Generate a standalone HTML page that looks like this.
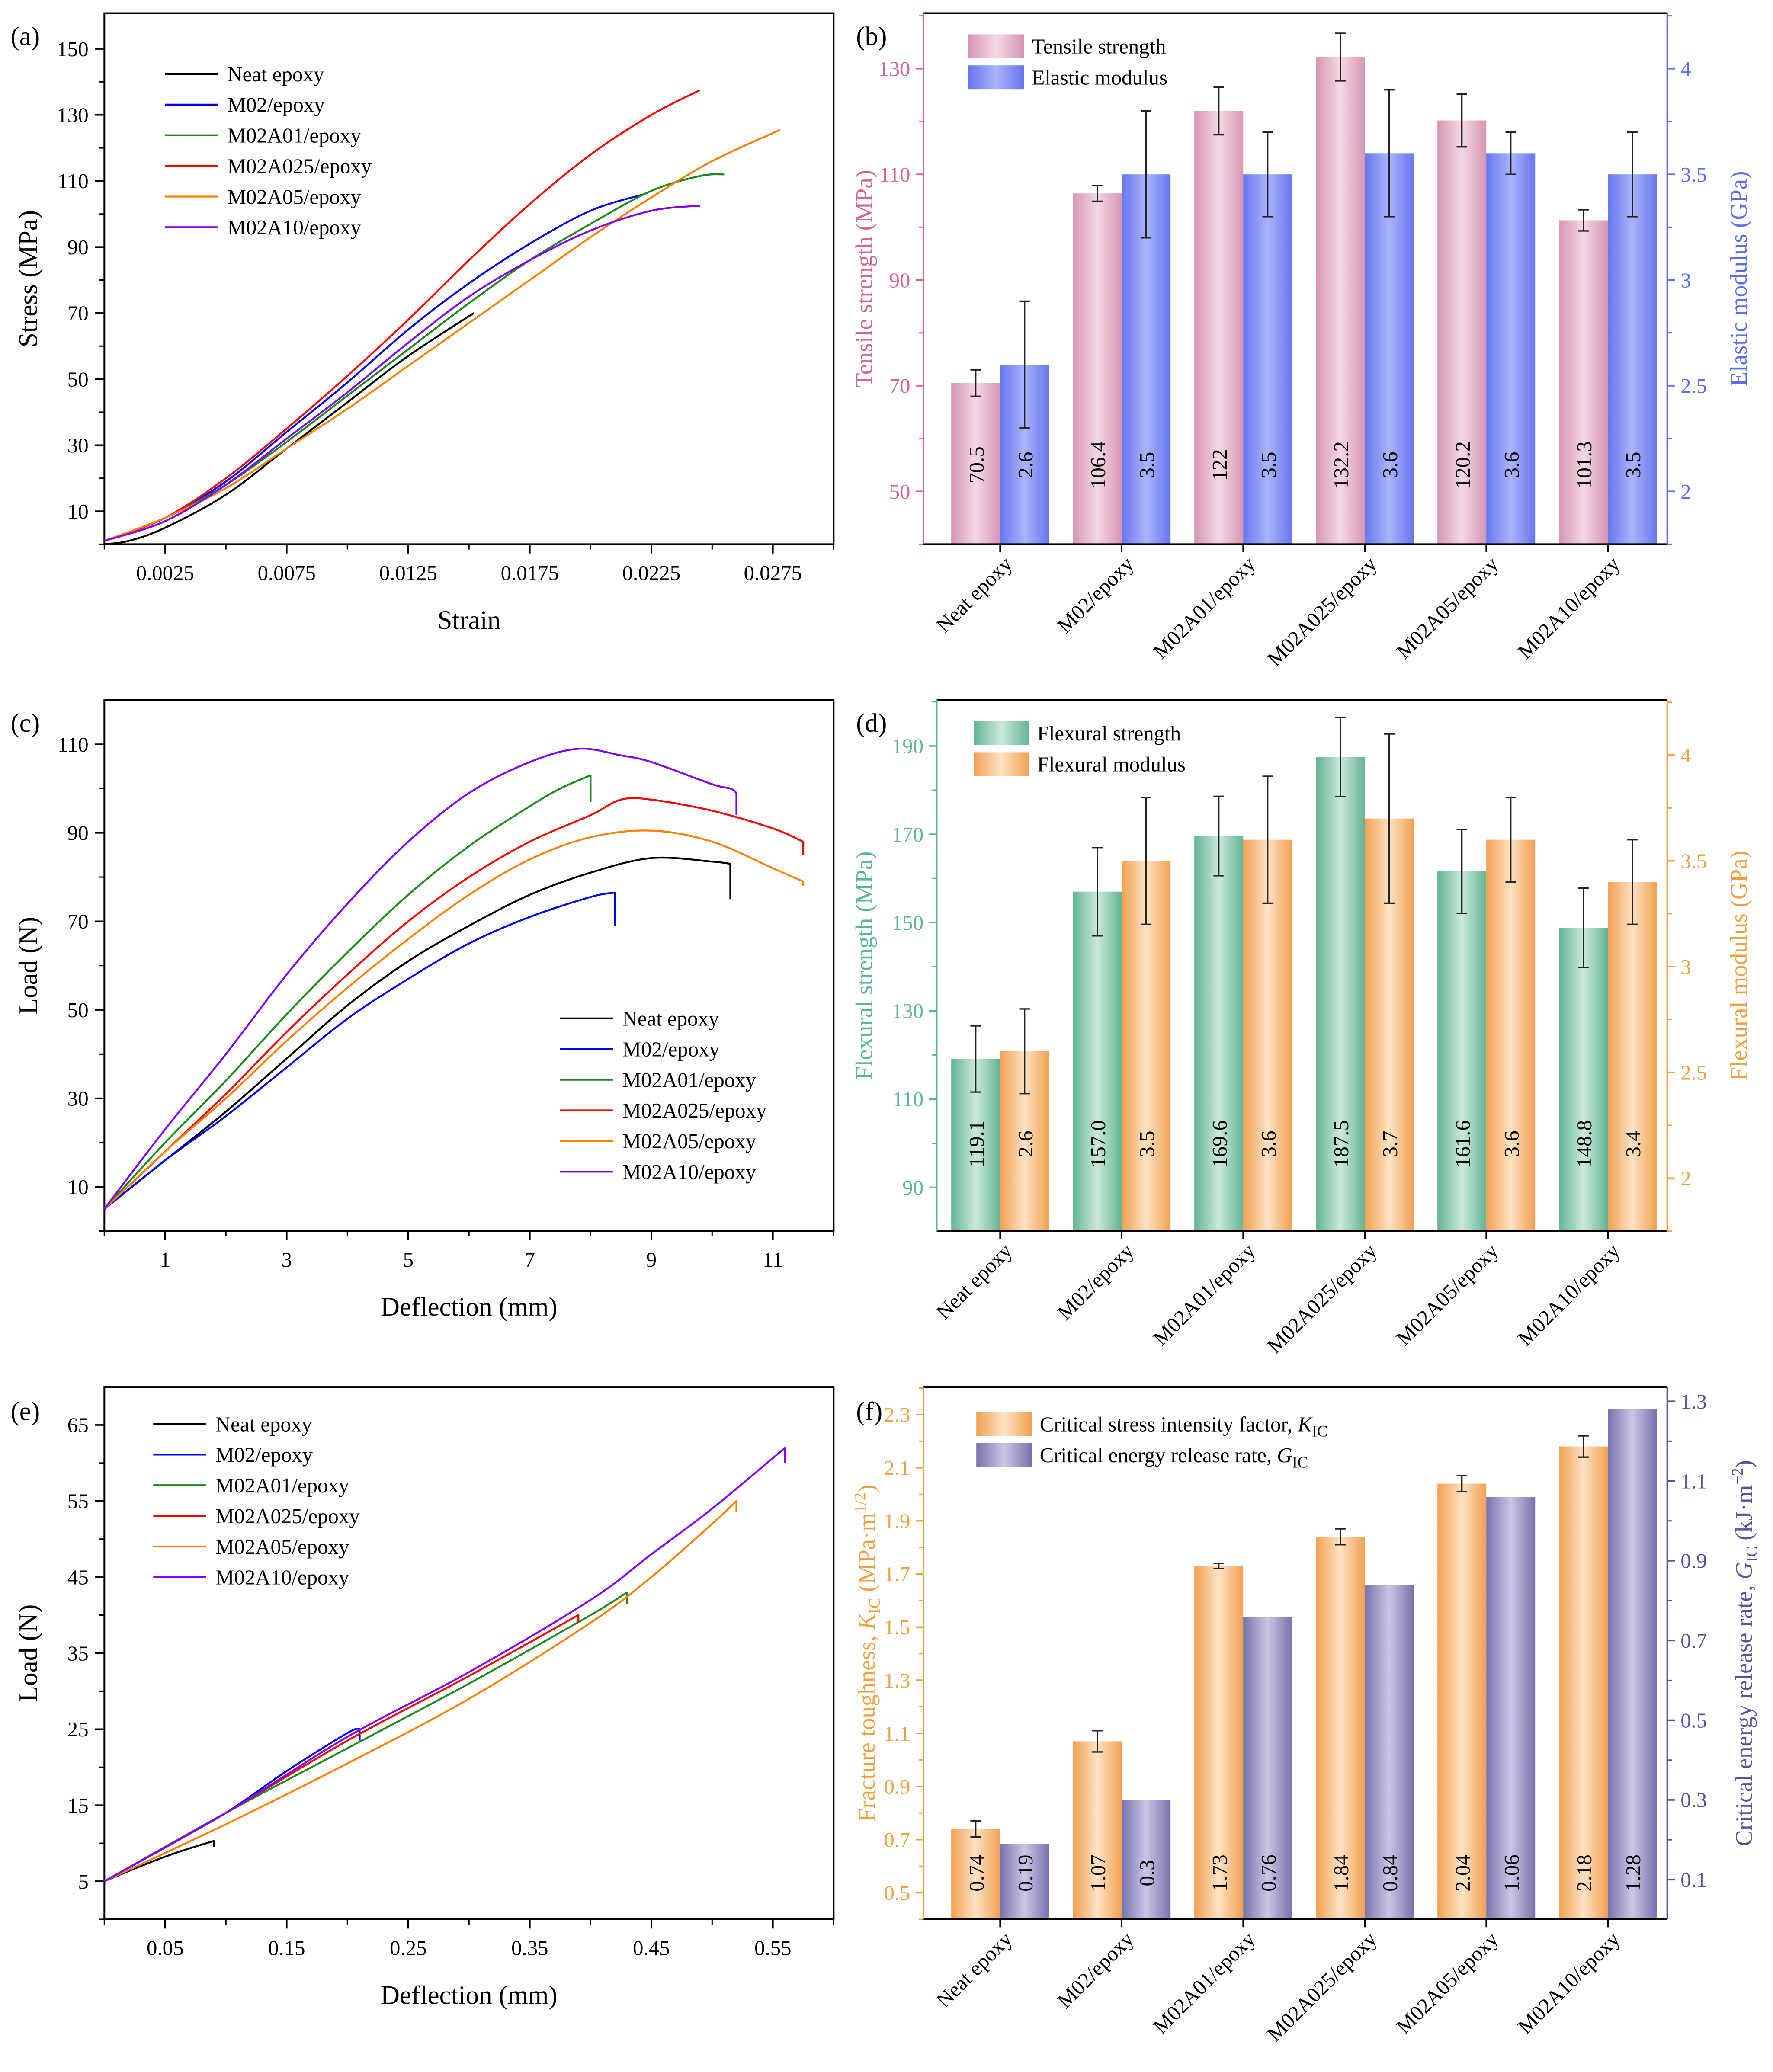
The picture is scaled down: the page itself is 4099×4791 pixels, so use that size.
<!DOCTYPE html>
<html><head><meta charset="utf-8"><style>
html,body{margin:0;padding:0;background:#fff}
svg{display:block}
text{font-family:"Liberation Serif",serif;}
</style></head><body>
<svg id="fig" xmlns="http://www.w3.org/2000/svg" width="4099" height="4791" viewBox="0 0 1342 1568.6" preserveAspectRatio="none">
<defs>
<linearGradient id="gPink" x1="0" x2="1" y1="0" y2="0"><stop offset="0" stop-color="#d596b4"/><stop offset="0.5" stop-color="#f5d8e4"/><stop offset="1" stop-color="#d596b4"/></linearGradient>
<linearGradient id="gBlue" x1="0" x2="1" y1="0" y2="0"><stop offset="0" stop-color="#6676ee"/><stop offset="0.5" stop-color="#aab4fa"/><stop offset="1" stop-color="#6676ee"/></linearGradient>
<linearGradient id="gGreen" x1="0" x2="1" y1="0" y2="0"><stop offset="0" stop-color="#62b493"/><stop offset="0.5" stop-color="#cbe9dc"/><stop offset="1" stop-color="#62b493"/></linearGradient>
<linearGradient id="gOrange" x1="0" x2="1" y1="0" y2="0"><stop offset="0" stop-color="#f2a050"/><stop offset="0.5" stop-color="#fde2c4"/><stop offset="1" stop-color="#f2a050"/></linearGradient>
<linearGradient id="gPurple" x1="0" x2="1" y1="0" y2="0"><stop offset="0" stop-color="#7872ac"/><stop offset="0.5" stop-color="#cac6e4"/><stop offset="1" stop-color="#7872ac"/></linearGradient>
</defs>
</svg>
<script>
// ---------- data ----------
const seriesNames = ["Neat epoxy","M02/epoxy","M02A01/epoxy","M02A025/epoxy","M02A05/epoxy","M02A10/epoxy"];
const seriesColors = ["#000000","#0000ff","#1a8a1a","#ff0000","#ff8000","#8000ff"];
// (a) stress-strain: [strain, stress]
const aNeat = [[0,0],[0.001,1],[0.0025,5],[0.005,15],[0.0075,29],[0.01,43],[0.0125,57],[0.0152,70]];
const aM02 = [[0,1],[0.0025,8],[0.005,19],[0.0075,34],[0.01,49],[0.0125,65],[0.015,79],[0.0175,91],[0.02,101],[0.0222,106]];
const aA01 = [[0,1],[0.0025,8],[0.005,18],[0.0075,31],[0.01,45],[0.0125,59],[0.015,73],[0.0175,86],[0.02,97],[0.0225,107],[0.0245,111.5],[0.0255,112]];
const aA025 = [[0,1],[0.0025,8],[0.005,20],[0.0075,35],[0.01,51],[0.0125,68],[0.015,86],[0.0175,103],[0.02,118],[0.0225,130],[0.0245,137.5]];
const aA05 = [[0,1],[0.0025,8],[0.005,17],[0.0075,29],[0.01,41],[0.0125,54],[0.015,67],[0.0175,80],[0.02,93],[0.0225,105],[0.025,116],[0.0278,125.5]];
const aA10 = [[0,1],[0.0025,7],[0.005,18],[0.0075,32],[0.01,46],[0.0125,61],[0.015,75],[0.0175,86],[0.02,95],[0.0225,101],[0.0245,102.5]];
const aXTicks = ["0.0025","0.0075","0.0125","0.0175","0.0225","0.0275"];
const aYTicks = ["10","30","50","70","90","110","130","150"];
// (c) flexural load-deflection
const cNeat = [[0,5],[1,16],[2,27],[3,39],[4,51],[5,61],[6,69],[7,76],[8,81],[9,84.3],[10,83.5],[10.3,83],[10.3,75]];
const cM02 = [[0,5],[1,16],[2,26],[3,37],[4,48],[5,57],[6,65],[7,71],[8,75.5],[8.4,76.5],[8.4,69]];
const cA01 = [[0,5],[1,20],[2,34],[3,49],[4,63],[5,76],[6,87],[7,96],[7.5,100],[8,103],[8,97]];
const cA025 = [[0,5],[1,18],[2,31],[3,45],[4,58],[5,70],[6,80],[7,88],[8,94],[8.5,97.5],[9,97.5],[10,95],[11,91],[11.5,88],[11.5,85]];
const cA05 = [[0,5],[1,18],[2,30],[3,43],[4,55],[5,66],[6,76],[7,84],[8,89],[9,90.5],[10,88],[11,82],[11.5,79],[11.5,78]];
const cA10 = [[0,5],[1,23],[2,40],[3,58],[4,74],[5,88],[6,99],[7,106],[7.8,109],[8.5,107.5],[9,106],[10,101],[10.3,100],[10.4,99],[10.4,94]];
const cXTicks = ["1","3","5","7","9","11"];
const cYTicks = ["10","30","50","70","90","110"];
// (e) SENB load-deflection
const eNeat = [[0,5],[0.03,7],[0.06,8.8],[0.09,10.3],[0.09,9.5]];
const eM02 = [[0,5],[0.05,9.5],[0.1,14],[0.15,19.5],[0.2,24.5],[0.21,25],[0.21,23.5]];
const eA01 = [[0,5],[0.1,14],[0.2,22.5],[0.3,31],[0.4,40],[0.43,43],[0.43,41.5]];
const eA025 = [[0,5],[0.1,14],[0.2,23.5],[0.3,32],[0.39,40],[0.39,39]];
const eA05 = [[0,5],[0.1,12.5],[0.2,20.5],[0.3,29],[0.4,39],[0.45,45],[0.5,52],[0.52,55],[0.52,53.5]];
const eA10 = [[0,5],[0.1,14],[0.2,24],[0.3,32.5],[0.4,42],[0.45,48],[0.5,54],[0.56,62],[0.56,60]];
const eXTicks = ["0.05","0.15","0.25","0.35","0.45","0.55"];
const eYTicks = ["5","15","25","35","45","55","65"];
// (b) tensile bars
const categories = ["Neat epoxy","M02/epoxy","M02A01/epoxy","M02A025/epoxy","M02A05/epoxy","M02A10/epoxy"];
const tensileStrength = [70.5,106.4,122,132.2,120.2,101.3];
const tensileStrengthErr = [2.5,1.5,4.5,4.5,5,2];
const tensileStrengthLabels = ["70.5","106.4","122","132.2","120.2","101.3"];
const elasticModulus = [2.6,3.5,3.5,3.6,3.6,3.5];
const elasticModulusErr = [0.3,0.3,0.2,0.3,0.1,0.2];
const elasticModulusLabels = ["2.6","3.5","3.5","3.6","3.6","3.5"];
const bLeftTicks = ["50","70","90","110","130"];
const bRightTicks = ["2","2.5","3","3.5","4"];
// (d) flexural bars
const flexStrength = [119.1,157.0,169.6,187.5,161.6,148.8];
const flexStrengthErr = [7.5,10,9,9,9.5,9];
const flexStrengthLabels = ["119.1","157.0","169.6","187.5","161.6","148.8"];
const flexModulus = [2.6,3.5,3.6,3.7,3.6,3.4];
const flexModulusErr = [0.2,0.3,0.3,0.4,0.2,0.2];
const flexModulusLabels = ["2.6","3.5","3.6","3.7","3.6","3.4"];
const dLeftTicks = ["90","110","130","150","170","190"];
const dRightTicks = ["2","2.5","3","3.5","4"];
// (f) fracture bars
const kic = [0.74,1.07,1.73,1.84,2.04,2.18];
const kicErr = [0.03,0.04,0.01,0.03,0.03,0.04];
const kicLabels = ["0.74","1.07","1.73","1.84","2.04","2.18"];
const gic = [0.19,0.3,0.76,0.84,1.06,1.28];
const gicLabels = ["0.19","0.3","0.76","0.84","1.06","1.28"];
const fLeftTicks = ["0.5","0.7","0.9","1.1","1.3","1.5","1.7","1.9","2.1","2.3"];
const fRightTicks = ["0.1","0.3","0.5","0.7","0.9","1.1","1.3"];

// ---------- helpers ----------
const NS = "http://www.w3.org/2000/svg";
const svg = document.getElementById("fig");
function mk(tag, attrs, parent, txt){
  const e = document.createElementNS(NS, tag);
  for (const k in attrs) e.setAttribute(k, attrs[k]);
  if (txt !== undefined) e.textContent = txt;
  (parent || svg).appendChild(e);
  return e;
}
function group(name){
  const g = mk("g", {});
  
  
  return g;
}
function lin(d0,d1,r0,r1){ return v => r0 + (v-d0)/(d1-d0)*(r1-r0); }

function frame(g, L, T, R, B){
  const r = mk("rect", {x:L,y:T,width:R-L,height:B-T,fill:"none",stroke:"#000","stroke-width":1.3}, g);
  
  
}
function panelLabel(txt, x, y){
  const t = mk("text", {x:x,y:y,"font-size":20}, svg, txt);
  
  
}
// smooth path (Catmull-Rom), vertical segments stay straight
function smoothPath(P){
  let d = "M"+P[0][0].toFixed(2)+","+P[0][1].toFixed(2);
  const n = P.length;
  const valid = (i,j) => i>=0 && i<n && Math.abs(P[i][0]-P[j][0])>0.01;
  for (let i=0;i<n-1;i++){
    const p1=P[i], p2=P[i+1];
    if (Math.abs(p1[0]-p2[0])<0.01){ d += " L"+p2[0].toFixed(2)+","+p2[1].toFixed(2); continue; }
    const p0 = valid(i-1,i) ? P[i-1] : p1;
    const p3 = (i+2<n && Math.abs(P[i+2][0]-p2[0])>0.01) ? P[i+2] : p2;
    const c1x = p1[0]+(p2[0]-p0[0])/6, c1y = p1[1]+(p2[1]-p0[1])/6;
    const c2x = p2[0]-(p3[0]-p1[0])/6, c2y = p2[1]-(p3[1]-p1[1])/6;
    d += ` C${c1x.toFixed(2)},${c1y.toFixed(2)} ${c2x.toFixed(2)},${c2y.toFixed(2)} ${p2[0].toFixed(2)},${p2[1].toFixed(2)}`;
  }
  return d;
}

// ---------- line chart ----------
function lineChart(o){
  const g = group(o.name);
  const X = lin(o.xmin,o.xmax,o.L,o.R), Y = lin(o.ymin,o.ymax,o.B,o.T);
  frame(g,o.L,o.T,o.R,o.B);
  o.xTicks.forEach(s => {
    const v = parseFloat(s), x = X(v);
    mk("line",{x1:x,x2:x,y1:o.B,y2:o.B+7,stroke:"#000","stroke-width":1.2},g);
    const t = mk("text",{x:x,y:o.B+27,"font-size":16,"text-anchor":"middle"},g,s);
    
    
    const xm = X(v - o.xStep/2);
    if (xm >= o.L-0.5) mk("line",{x1:xm,x2:xm,y1:o.B,y2:o.B+4,stroke:"#000","stroke-width":1},g);
  });
  { const xl = X(parseFloat(o.xTicks[o.xTicks.length-1]) + o.xStep/2); if (xl<=o.R+0.5) mk("line",{x1:xl,x2:xl,y1:o.B,y2:o.B+4,stroke:"#000","stroke-width":1},g); }
  o.yTicks.forEach(s => {
    const v = parseFloat(s), y = Y(v);
    mk("line",{x1:o.L-7,x2:o.L,y1:y,y2:y,stroke:"#000","stroke-width":1.2},g);
    const t = mk("text",{x:o.L-12,y:y+5.5,"font-size":16,"text-anchor":"end"},g,s);
    
    
    const ym = Y(v - o.yStep/2);
    if (ym <= o.B+0.5) mk("line",{x1:o.L-4,x2:o.L,y1:ym,y2:ym,stroke:"#000","stroke-width":1},g);
  });
  const xt = mk("text",{x:(o.L+o.R)/2+0,y:o.B+64,"font-size":20,"text-anchor":"middle"},g,o.xTitle);
  
  
  const yc = (o.T+o.B)/2;
  const yt = mk("text",{x:0,y:0,"font-size":20,"text-anchor":"middle",transform:`translate(28,${yc}) rotate(-90)`},g,o.yTitle);
  
  
  o.series.forEach((pts,i) => {
    const d = smoothPath(pts.map(p=>[X(p[0]),Y(p[1])]));
    const p = mk("path",{d:d,fill:"none",stroke:seriesColors[i],"stroke-width":1.4,"stroke-linejoin":"round"},g);
    
    
  });
  seriesNames.forEach((n,i) => {
    const y = o.legY + i*23.2;
    mk("line",{x1:o.legX,x2:o.legX+40,y1:y,y2:y,stroke:seriesColors[i],"stroke-width":1.4},g);
    const t = mk("text",{x:o.legX+47,y:y+5.5,"font-size":16},g,n);
    
    
  });
}

// ---------- bar chart ----------
function barChart(o){
  const g = group(o.name);
  const YL = lin(o.lmin,o.lmax,o.B,o.T), YR = lin(o.rmin,o.rmax,o.B,o.T);
  const c0 = 757, step = 92, bw = 37;
  categories.forEach((c,i) => {
    const cx = c0 + step*i;
    const y1 = YL(o.lv[i]);
    const r1 = mk("rect",{x:cx-bw,y:y1,width:bw,height:o.B-y1,fill:`url(#${o.lGrad})`},g);
    
    
    const y2 = YR(o.rv[i]);
    const r2 = mk("rect",{x:cx,y:y2,width:bw,height:o.B-y2,fill:`url(#${o.rGrad})`},g);
    
    
    const eb = (x, yv, ye, sc) => {
      const a = sc(yv+ye), b = sc(yv-ye);
      mk("line",{x1:x,x2:x,y1:a,y2:b,stroke:"#222","stroke-width":1.1},g);
      mk("line",{x1:x-4,x2:x+4,y1:a,y2:a,stroke:"#222","stroke-width":1.1},g);
      mk("line",{x1:x-4,x2:x+4,y1:b,y2:b,stroke:"#222","stroke-width":1.1},g);
    };
    if (o.le) eb(cx-bw/2, o.lv[i], o.le[i], YL);
    if (o.re) eb(cx+bw/2, o.rv[i], o.re[i], YR);
    const t1 = mk("text",{x:0,y:0,"font-size":16,"text-anchor":"middle",transform:`translate(${cx-bw/2+6},${o.valY}) rotate(-90)`},g,o.lLab[i]);
    
    
    const t2 = mk("text",{x:0,y:0,"font-size":16,"text-anchor":"middle",transform:`translate(${cx+bw/2+6},${o.valY}) rotate(-90)`},g,o.rLab[i]);
    
    
    mk("line",{x1:cx,x2:cx,y1:o.B,y2:o.B+6,stroke:"#000","stroke-width":1.2},g);
    const ct = mk("text",{x:0,y:0,"font-size":16,"text-anchor":"end",transform:`translate(${cx+10},${o.B+16}) rotate(-45)`},g,c);
    
    
  });
  mk("line",{x1:o.L,x2:o.R,y1:o.B,y2:o.B,stroke:"#000","stroke-width":1.3},g);
  mk("line",{x1:o.L,x2:o.R,y1:o.T,y2:o.T,stroke:"#000","stroke-width":1.3},g);
  mk("line",{x1:o.L,x2:o.L,y1:o.T,y2:o.B,stroke:o.lCol,"stroke-width":1.3},g);
  mk("line",{x1:o.R,x2:o.R,y1:o.T,y2:o.B,stroke:o.rCol,"stroke-width":1.3},g);
  o.lTicks.forEach(s => {
    const v = parseFloat(s), y = YL(v);
    mk("line",{x1:o.L-6,x2:o.L,y1:y,y2:y,stroke:o.lCol,"stroke-width":1.2},g);
    const ym = YL(v+o.lStep/2); if (ym>=o.T) mk("line",{x1:o.L-3.5,x2:o.L,y1:ym,y2:ym,stroke:o.lCol,"stroke-width":1},g);
    const t = mk("text",{x:o.L-10,y:y+5.5,"font-size":16,"text-anchor":"end",fill:o.lCol},g,s);
    
    
  });
  { const ym = YL(parseFloat(o.lTicks[0])-o.lStep/2); if (ym<=o.B) mk("line",{x1:o.L-3.5,x2:o.L,y1:ym,y2:ym,stroke:o.lCol,"stroke-width":1},g); }
  o.rTicks.forEach(s => {
    const v = parseFloat(s), y = YR(v);
    mk("line",{x1:o.R,x2:o.R+6,y1:y,y2:y,stroke:o.rCol,"stroke-width":1.2},g);
    const ym = YR(v+o.rStep/2); if (ym>=o.T) mk("line",{x1:o.R,x2:o.R+3.5,y1:ym,y2:ym,stroke:o.rCol,"stroke-width":1},g);
    const t = mk("text",{x:o.R+10,y:y+5.5,"font-size":16,fill:o.rCol},g,s);
    
    
  });
  { const ym = YR(parseFloat(o.rTicks[0])-o.rStep/2); if (ym<=o.B) mk("line",{x1:o.R,x2:o.R+3.5,y1:ym,y2:ym,stroke:o.rCol,"stroke-width":1},g); }
  const yc = (o.T+o.B)/2;
  const lt = mk("text",{x:0,y:0,"font-size":18,"text-anchor":"middle",fill:o.lCol,transform:`translate(${o.lTitleX},${yc}) rotate(-90)`},g);
  lt.innerHTML = o.lTitle;
  
  
  const rt = mk("text",{x:0,y:0,"font-size":18,"text-anchor":"middle",fill:o.rCol,transform:`translate(${o.rTitleX},${yc}) rotate(-90)`},g);
  rt.innerHTML = o.rTitle;
  
  
  o.leg.forEach((n,i) => {
    const y = o.legY + i*23.5;
    const sw = mk("rect",{x:o.legX,y:y-9,width:42,height:18,fill:`url(#${i?o.rGrad:o.lGrad})`},g);
    
    
    const t = mk("text",{x:o.legX+48,y:y+5.5,"font-size":16},g);
    t.innerHTML = n;
    
    
  });
}

// ---------- panels ----------
panelLabel("(a)",8,34); panelLabel("(b)",648,34);
panelLabel("(c)",8,554); panelLabel("(d)",648,554);
panelLabel("(e)",8,1075); panelLabel("(f)",648,1075);

lineChart({name:"panel-a-stress-strain",L:79,R:631,T:10,B:412,xmin:0,xmax:0.03,ymin:0,ymax:160.8,xStep:0.005,yStep:20,
  xTicks:aXTicks,yTicks:aYTicks,xTitle:"Strain",yTitle:"Stress (MPa)",
  series:[aNeat,aM02,aA01,aA025,aA05,aA10],legX:125,legY:56});
lineChart({name:"panel-c-flexural-load",L:79,R:631,T:530,B:932,xmin:0,xmax:12,ymin:0,ymax:120,xStep:2,yStep:20,
  xTicks:cXTicks,yTicks:cYTicks,xTitle:"Deflection (mm)",yTitle:"Load (N)",
  series:[cNeat,cM02,cA01,cA025,cA05,cA10],legX:424,legY:771});
lineChart({name:"panel-e-senb-load",L:79,R:631,T:1050,B:1453,xmin:0,xmax:0.6,ymin:0,ymax:70,xStep:0.1,yStep:10,
  xTicks:eXTicks,yTicks:eYTicks,xTitle:"Deflection (mm)",yTitle:"Load (N)",
  series:[eNeat,eM02,eA01,eA025,eA05,eA10],legX:116,legY:1078});

barChart({name:"panel-b-tensile",L:699,R:1262,T:10,B:412,lmin:40,lmax:140.5,rmin:1.75,rmax:4.2625,
  lv:tensileStrength,le:tensileStrengthErr,lLab:tensileStrengthLabels,rv:elasticModulus,re:elasticModulusErr,rLab:elasticModulusLabels,
  lGrad:"gPink",rGrad:"gBlue",lCol:"#d2668f",rCol:"#5a6cf0",lTicks:bLeftTicks,rTicks:bRightTicks,lStep:20,rStep:0.5,valY:352,
  lTitle:"Tensile strength (MPa)",rTitle:"Elastic modulus (GPa)",lTitleX:660,rTitleX:1322,
  leg:["Tensile strength","Elastic modulus"],legX:733,legY:35});
barChart({name:"panel-d-flexural",L:709,R:1262,T:530,B:932,lmin:80.1,lmax:200.4,rmin:1.75,rmax:4.26,
  lv:flexStrength,le:flexStrengthErr,lLab:flexStrengthLabels,rv:flexModulus,re:flexModulusErr,rLab:flexModulusLabels,
  lGrad:"gGreen",rGrad:"gOrange",lCol:"#5bb597",rCol:"#f0a040",lTicks:dLeftTicks,rTicks:dRightTicks,lStep:20,rStep:0.5,valY:866,
  lTitle:"Flexural strength (MPa)",rTitle:"Flexural modulus (GPa)",lTitleX:660,rTitleX:1322,
  leg:["Flexural strength","Flexural modulus"],legX:737,legY:555});
barChart({name:"panel-f-fracture",L:699,R:1262,T:1050,B:1453,lmin:0.4,lmax:2.404,rmin:0.0006,rmax:1.336,
  lv:kic,le:kicErr,lLab:kicLabels,rv:gic,re:null,rLab:gicLabels,
  lGrad:"gOrange",rGrad:"gPurple",lCol:"#f0a040",rCol:"#5a4f9a",lTicks:fLeftTicks,rTicks:fRightTicks,lStep:0.2,rStep:0.2,valY:1418,
  lTitle:'Fracture toughness, <tspan font-style="italic">K</tspan><tspan font-size="12" dy="4">IC</tspan><tspan dy="-4"> (MPa·m</tspan><tspan font-size="12" dy="-7">1/2</tspan><tspan dy="7">)</tspan>',
  rTitle:'Critical energy release rate, <tspan font-style="italic">G</tspan><tspan font-size="12" dy="4">IC</tspan><tspan dy="-4"> (kJ·m</tspan><tspan font-size="12" dy="-7">−2</tspan><tspan dy="7">)</tspan>',
  lTitleX:662,rTitleX:1326,
  leg:['Critical stress intensity factor, <tspan font-style="italic">K</tspan><tspan font-size="12" dy="4">IC</tspan>','Critical energy release rate, <tspan font-style="italic">G</tspan><tspan font-size="12" dy="4">IC</tspan>'],legX:739,legY:1078});
</script>
</body></html>
